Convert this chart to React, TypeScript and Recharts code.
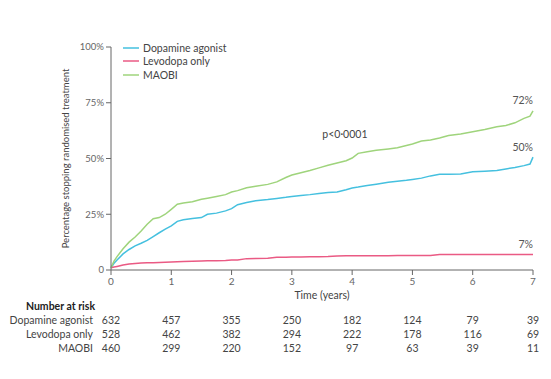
import { Label, Line, LineChart, ReferenceDot, XAxis, YAxis, Legend } from "recharts";

// Kaplan-Meier style curves: % stopping randomised treatment
const times = [
  0, 0.05, 0.1, 0.2, 0.3, 0.4, 0.5, 0.6, 0.7, 0.8, 0.9, 1.0, 1.1, 1.2, 1.35, 1.5, 1.6, 1.75,
  1.9, 2.0, 2.1, 2.25, 2.4, 2.6, 2.75, 2.9, 3.0, 3.15, 3.3, 3.45, 3.6, 3.75, 3.9, 4.0, 4.1,
  4.25, 4.4, 4.6, 4.75, 4.9, 5.0, 5.15, 5.3, 5.45, 5.6, 5.8, 6.0, 6.2, 6.4, 6.55, 6.7, 6.85,
  6.95, 7.0,
];
const dopamine = [
  1, 3, 4.5, 7.2, 9.2, 10.8, 12, 13.3, 15, 16.7, 18.3, 19.8, 21.8, 22.5, 23.1, 23.5, 25, 25.5,
  26.5, 27.5, 29.3, 30.3, 31.1, 31.6, 32.1, 32.6, 33, 33.4, 33.8, 34.3, 34.7, 35, 36, 36.8, 37.2,
  37.9, 38.5, 39.4, 39.8, 40.2, 40.6, 41.2, 42.2, 42.9, 42.9, 43.1, 44.1, 44.3, 44.6, 45.3, 46,
  46.8, 47.5, 50.6,
];
const levodopa = [
  1, 1.3, 1.6, 2.2, 2.7, 2.9, 3.1, 3.2, 3.3, 3.4, 3.5, 3.6, 3.7, 3.8, 3.9, 4, 4.1, 4.2,
  4.3, 4.5, 4.5, 5.1, 5.2, 5.3, 5.7, 5.7, 5.8, 5.8, 5.9, 5.9, 6.0, 6.3, 6.4, 6.4, 6.4,
  6.4, 6.4, 6.4, 6.5, 6.5, 6.5, 6.5, 6.5, 7.0, 7.0, 7.0, 7.0, 7.0, 7.0, 7.0, 7.0, 7.0,
  7.0, 7.0,
];
const maobi = [
  1, 4, 6, 9.5, 12.5, 14.8, 17.5, 20.5, 23, 23.5, 25, 27.2, 29.5, 30, 30.6, 31.7, 32.2, 33,
  33.8, 35, 35.6, 36.9, 37.6, 38.4, 39.5, 41.5, 42.6, 43.6, 44.6, 45.8, 47, 48, 49, 50.2, 52.3,
  53, 53.7, 54.3, 54.8, 55.8, 56.5, 57.8, 58.3, 59.2, 60.3, 61, 62, 63, 64.2, 64.8, 66, 68,
  69, 71.4,
];

const xTicks = [0, 1, 2, 3, 4, 5, 6, 7];
const yTicks = [0, 25, 50, 75, 100];

// Number at risk table
const riskDopamine = [632, 457, 355, 250, 182, 124, 79, 39];
const riskLevodopa = [528, 462, 382, 294, 222, 178, 116, 69];
const riskMaobi = [460, 299, 220, 152, 97, 63, 39, 11];

const series = [
  { key: "dopamine", name: "Dopamine agonist", color: "#45c0df", end: "50%" },
  { key: "levodopa", name: "Levodopa only", color: "#ea5a84", end: "7%" },
  { key: "maobi", name: "MAOBI", color: "#9fd47c", end: "72%" },
];

const chartData = times.map((t, i) => ({
  t,
  dopamine: dopamine[i],
  levodopa: levodopa[i],
  maobi: maobi[i],
}));

const FONT = "Lato, 'Open Sans', sans-serif";
const TEXT = "#444";

const renderLegend = () => (
  <div style={{ fontFamily: FONT, fontSize: 10.5, color: TEXT }}>
    {series.map((s) => (
      <div key={s.key} style={{ display: "flex", alignItems: "center", height: 13.5 }}>
        <svg width={16} height={4} style={{ marginRight: 4 }}>
          <line x1={0} y1={2} x2={16} y2={2} stroke={s.color} strokeWidth={1.5} />
        </svg>
        {s.name}
      </div>
    ))}
  </div>
);

const riskTick = (values: number[]) => (props: any) => {
  const idx = xTicks.indexOf(props.payload.value);
  return (
    <text
      x={props.x}
      y={props.y + 7}
      textAnchor="middle"
      dominantBaseline="central"
      fontSize={10.5}
      fill={TEXT}
      fontFamily={FONT}
    >
      {values[idx]}
    </text>
  );
};

const endLabel = (text: string) => (props: any) => {
  if (props.index !== times.length - 1) return <g />;
  return (
    <text
      x={props.x}
      y={props.y - 10.5}
      textAnchor="end"
      dominantBaseline="central"
      fontSize={10.5}
      fill="#555"
      fontFamily={FONT}
    >
      {text}
    </text>
  );
};

const yLabel = (props: any) => {
  const vb = props.viewBox;
  const cx = vb.x + 65;
  const cy = vb.y + vb.height / 2;
  return (
    <text
      x={cx}
      y={cy}
      transform={`rotate(-90 ${cx} ${cy})`}
      textAnchor="middle"
      dominantBaseline="central"
      fontSize={9.5}
      fill={TEXT}
      fontFamily={FONT}
    >
      Percentage stopping randomised treatment
    </text>
  );
};

const rowLabel = (value: string, offset: number, bold = false) => ({
  value,
  position: "left" as const,
  offset,
  fontSize: 10.5,
  fill: bold ? "#222" : TEXT,
  fontWeight: bold ? 700 : 400,
  fontFamily: FONT,
});

// axes ids are ordered so the stacking goes main -> header -> rows
const riskAxis = (id: string, values: number[], name: string) => (
  <XAxis
    xAxisId={id}
    dataKey="t"
    type="number"
    domain={[0, 7]}
    ticks={xTicks}
    interval={0}
    height={14}
    axisLine={false}
    tickLine={false}
    tickSize={0}
    tickMargin={0}
    tick={riskTick(values)}
    label={rowLabel(name, 18)}
  />
);

export default function App() {
  return (
    <div style={{ position: "absolute", left: 0, top: 0, background: "#fff" }}>
      <LineChart
        width={551}
        height={379}
        data={chartData}
        margin={{ top: 47, right: 18, left: 0, bottom: 24 }}
      >
        <XAxis
          xAxisId="a_main"
          dataKey="t"
          type="number"
          domain={[0, 7]}
          ticks={xTicks}
          interval={0}
          height={29}
          tickSize={5}
          tickMargin={3}
          stroke="#666"
          tick={{ fontSize: 10, fill: "#666", fontFamily: FONT }}
        >
          <Label
            value="Time (years)"
            position="insideBottom"
            offset={0}
            fontSize={10.5}
            fill={TEXT}
            fontFamily={FONT}
          />
        </XAxis>
        <XAxis
          xAxisId="b_header"
          dataKey="t"
          type="number"
          domain={[0, 7]}
          height={14}
          tick={false}
          axisLine={false}
          tickLine={false}
          label={rowLabel("Number at risk", 16, true)}
        />
        {riskAxis("c_r0", riskDopamine, "Dopamine agonist")}
        {riskAxis("d_r1", riskLevodopa, "Levodopa only")}
        {riskAxis("e_r2", riskMaobi, "MAOBI")}
        <YAxis
          type="number"
          domain={[0, 100]}
          ticks={yTicks}
          interval={0}
          width={111}
          tickSize={5}
          tickMargin={2}
          stroke="#666"
          tickFormatter={(v: number) => (v === 0 ? "0" : `${v}%`)}
          tick={{ fontSize: 9.5, fill: "#666", fontFamily: FONT }}
        >
          <Label content={yLabel} />
        </YAxis>
        <Legend
          layout="vertical"
          align="center"
          verticalAlign="middle"
          content={renderLegend}
          wrapperStyle={{ top: 41, left: 123, width: "auto" }}
        />
        {series.map((s) => (
          <Line
            key={s.key}
            xAxisId="a_main"
            dataKey={s.key}
            name={s.name}
            type="linear"
            stroke={s.color}
            strokeWidth={1.5}
            dot={false}
            activeDot={false}
            label={endLabel(s.end)}
            isAnimationActive={false}
          />
        ))}
        <ReferenceDot
          xAxisId="a_main"
          x={3.88}
          y={60.7}
          r={0}
          fill="none"
          stroke="none"
          label={{ value: "p<0·0001", position: "center", fontSize: 10.5, fill: TEXT, fontFamily: FONT }}
        />
      </LineChart>
    </div>
  );
}
